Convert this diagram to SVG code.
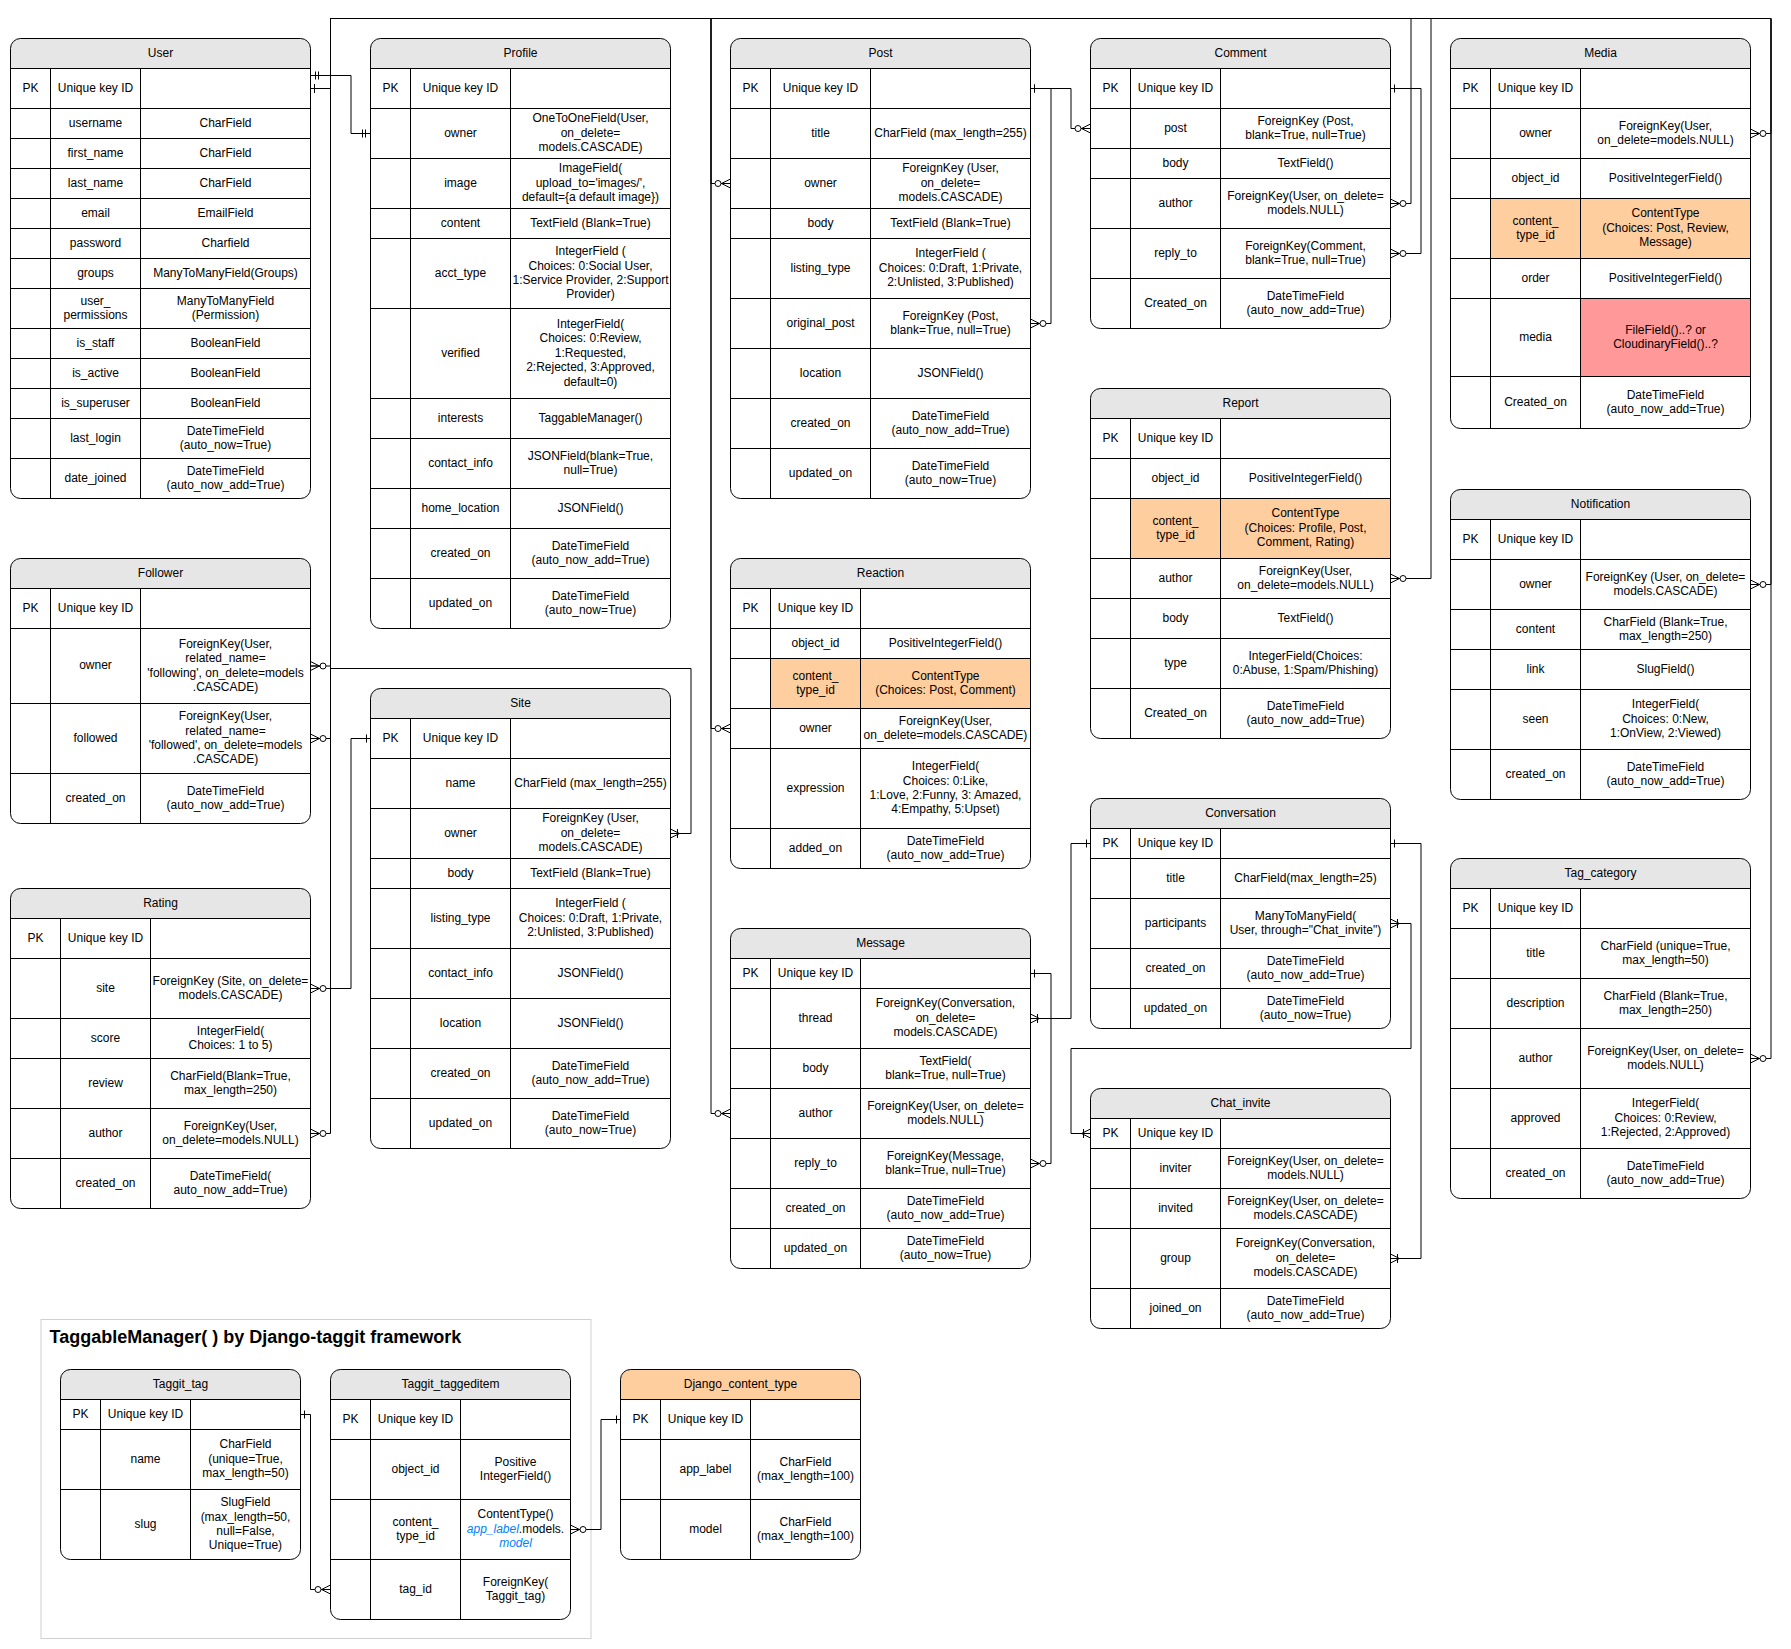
<svg xmlns="http://www.w3.org/2000/svg" width="1791" height="1649" viewBox="0 0 1791 1649">
<style>
text{font-family:"Liberation Sans",Arial,Helvetica,sans-serif;font-size:12px;text-anchor:middle;fill:#000;transform:translate(0px,-0.8px)}
.bg{fill:#fff}
.hd{fill:#e6e6e6}
.or{fill:#ffce9f}
.rd{fill:#ff9999}
.ln,.bd,.cn{fill:none;stroke:#000;stroke-width:1}
.grp{fill:#fff;stroke:#d0d0d0;stroke-width:1}
.title{font-size:18px;font-weight:bold;text-anchor:start}
.blu{fill:#007fff;font-style:italic}
.mk{fill:none;stroke:#000;stroke-width:1}
</style>
<defs>
<marker id="one" markerUnits="userSpaceOnUse" markerWidth="24" markerHeight="16" viewBox="0 0 24 16" refX="24" refY="8" orient="auto-start-reverse"><path class="mk" d="M20,4V12"/></marker>
<marker id="mone" markerUnits="userSpaceOnUse" markerWidth="24" markerHeight="16" viewBox="0 0 24 16" refX="24" refY="8" orient="auto-start-reverse"><path class="mk" d="M16,4V12M19,4V12"/></marker>
<marker id="zmany" markerUnits="userSpaceOnUse" markerWidth="24" markerHeight="16" viewBox="0 0 24 16" refX="24" refY="8" orient="auto-start-reverse"><path class="mk" d="M15,8L24,3.5M15,8L24,8M15,8L24,12.5"/><circle cx="11.5" cy="8" r="3" fill="#fff" stroke="#000" stroke-width="1"/></marker>
<marker id="omany" markerUnits="userSpaceOnUse" markerWidth="24" markerHeight="16" viewBox="0 0 24 16" refX="24" refY="8" orient="auto-start-reverse"><path class="mk" d="M15,8L24,3.5M15,8L24,8M15,8L24,12.5M17,3.5V12.5"/></marker>
</defs>
<rect x="0" y="0" width="1791" height="1649" fill="#fff"/>
<g transform="translate(0.5 0.5)">

<g id="taggit-group">
<rect class="grp" x="40.5" y="1319" width="550" height="319"/>
<text class="title" x="49" y="1343">TaggableManager( ) by Django-taggit framework</text>
</g>

<g id="user">
<rect class="bg" x="10" y="38" width="300" height="460" rx="10"/>
<path class="hd" d="M10,68V48A10,10 0 0 1 20,38H300A10,10 0 0 1 310,48V68Z"/>
<path class="ln" d="M10,68H310M10,108H310M10,138H310M10,168H310M10,198H310M10,228H310M10,258H310M10,288H310M10,328H310M10,358H310M10,388H310M10,418H310M10,458H310M50,68V498M140,68V498"/>
<rect class="bd" x="10" y="38" width="300" height="460" rx="10"/>
<text x="160" y="53" dy=".35em">User</text>
<text x="30" y="88" dy=".35em">PK</text><text x="95" y="88" dy=".35em">Unique key ID</text>
<text x="95" y="123" dy=".35em">username</text><text x="225" y="123" dy=".35em">CharField</text>
<text x="95" y="153" dy=".35em">first_name</text><text x="225" y="153" dy=".35em">CharField</text>
<text x="95" y="183" dy=".35em">last_name</text><text x="225" y="183" dy=".35em">CharField</text>
<text x="95" y="213" dy=".35em">email</text><text x="225" y="213" dy=".35em">EmailField</text>
<text x="95" y="243" dy=".35em">password</text><text x="225" y="243" dy=".35em">Charfield</text>
<text x="95" y="273" dy=".35em">groups</text><text x="225" y="273" dy=".35em">ManyToManyField(Groups)</text>
<text x="95" y="308"><tspan x="95" dy="-.25em">user_</tspan><tspan x="95" dy="1.2em">permissions</tspan></text>
<text x="225" y="308"><tspan x="225" dy="-.25em">ManyToManyField</tspan><tspan x="225" dy="1.2em">(Permission)</tspan></text>
<text x="95" y="343" dy=".35em">is_staff</text><text x="225" y="343" dy=".35em">BooleanField</text>
<text x="95" y="373" dy=".35em">is_active</text><text x="225" y="373" dy=".35em">BooleanField</text>
<text x="95" y="403" dy=".35em">is_superuser</text><text x="225" y="403" dy=".35em">BooleanField</text>
<text x="95" y="438" dy=".35em">last_login</text>
<text x="225" y="438"><tspan x="225" dy="-.25em">DateTimeField</tspan><tspan x="225" dy="1.2em">(auto_now=True)</tspan></text>
<text x="95" y="478" dy=".35em">date_joined</text>
<text x="225" y="478"><tspan x="225" dy="-.25em">DateTimeField</tspan><tspan x="225" dy="1.2em">(auto_now_add=True)</tspan></text>
</g>

<g id="profile">
<rect class="bg" x="370" y="38" width="300" height="590" rx="10"/>
<path class="hd" d="M370,68V48A10,10 0 0 1 380,38H660A10,10 0 0 1 670,48V68Z"/>
<path class="ln" d="M370,68H670M370,108H670M370,158H670M370,208H670M370,238H670M370,308H670M370,398H670M370,438H670M370,488H670M370,528H670M370,578H670M410,68V628M510,68V628"/>
<rect class="bd" x="370" y="38" width="300" height="590" rx="10"/>
<text x="520" y="53" dy=".35em">Profile</text>
<text x="390" y="88" dy=".35em">PK</text><text x="460" y="88" dy=".35em">Unique key ID</text>
<text x="460" y="133" dy=".35em">owner</text>
<text x="590" y="133"><tspan x="590" dy="-.85em">OneToOneField(User,</tspan><tspan x="590" dy="1.2em">on_delete=</tspan><tspan x="590" dy="1.2em">models.CASCADE)</tspan></text>
<text x="460" y="183" dy=".35em">image</text>
<text x="590" y="183"><tspan x="590" dy="-.85em">ImageField(</tspan><tspan x="590" dy="1.2em">upload_to='images/',</tspan><tspan x="590" dy="1.2em">default={a default image})</tspan></text>
<text x="460" y="223" dy=".35em">content</text><text x="590" y="223" dy=".35em">TextField (Blank=True)</text>
<text x="460" y="273" dy=".35em">acct_type</text>
<text x="590" y="273"><tspan x="590" dy="-1.45em">IntegerField (</tspan><tspan x="590" dy="1.2em">Choices: 0:Social User,</tspan><tspan x="590" dy="1.2em">1:Service Provider, 2:Support</tspan><tspan x="590" dy="1.2em">Provider)</tspan></text>
<text x="460" y="353" dy=".35em">verified</text>
<text x="590" y="353"><tspan x="590" dy="-2.05em">IntegerField(</tspan><tspan x="590" dy="1.2em">Choices: 0:Review,</tspan><tspan x="590" dy="1.2em">1:Requested,</tspan><tspan x="590" dy="1.2em">2:Rejected, 3:Approved,</tspan><tspan x="590" dy="1.2em">default=0)</tspan></text>
<text x="460" y="418" dy=".35em">interests</text><text x="590" y="418" dy=".35em">TaggableManager()</text>
<text x="460" y="463" dy=".35em">contact_info</text>
<text x="590" y="463"><tspan x="590" dy="-.25em">JSONField(blank=True,</tspan><tspan x="590" dy="1.2em">null=True)</tspan></text>
<text x="460" y="508" dy=".35em">home_location</text><text x="590" y="508" dy=".35em">JSONField()</text>
<text x="460" y="553" dy=".35em">created_on</text>
<text x="590" y="553"><tspan x="590" dy="-.25em">DateTimeField</tspan><tspan x="590" dy="1.2em">(auto_now_add=True)</tspan></text>
<text x="460" y="603" dy=".35em">updated_on</text>
<text x="590" y="603"><tspan x="590" dy="-.25em">DateTimeField</tspan><tspan x="590" dy="1.2em">(auto_now=True)</tspan></text>
</g>

<g id="post">
<rect class="bg" x="730" y="38" width="300" height="460" rx="10"/>
<path class="hd" d="M730,68V48A10,10 0 0 1 740,38H1020A10,10 0 0 1 1030,48V68Z"/>
<path class="ln" d="M730,68H1030M730,108H1030M730,158H1030M730,208H1030M730,238H1030M730,298H1030M730,348H1030M730,398H1030M730,448H1030M770,68V498M870,68V498"/>
<rect class="bd" x="730" y="38" width="300" height="460" rx="10"/>
<text x="880" y="53" dy=".35em">Post</text>
<text x="750" y="88" dy=".35em">PK</text><text x="820" y="88" dy=".35em">Unique key ID</text>
<text x="820" y="133" dy=".35em">title</text><text x="950" y="133" dy=".35em">CharField (max_length=255)</text>
<text x="820" y="183" dy=".35em">owner</text>
<text x="950" y="183"><tspan x="950" dy="-.85em">ForeignKey (User,</tspan><tspan x="950" dy="1.2em">on_delete=</tspan><tspan x="950" dy="1.2em">models.CASCADE)</tspan></text>
<text x="820" y="223" dy=".35em">body</text><text x="950" y="223" dy=".35em">TextField (Blank=True)</text>
<text x="820" y="268" dy=".35em">listing_type</text>
<text x="950" y="268"><tspan x="950" dy="-.85em">IntegerField (</tspan><tspan x="950" dy="1.2em">Choices: 0:Draft, 1:Private,</tspan><tspan x="950" dy="1.2em">2:Unlisted, 3:Published)</tspan></text>
<text x="820" y="323" dy=".35em">original_post</text>
<text x="950" y="323"><tspan x="950" dy="-.25em">ForeignKey (Post,</tspan><tspan x="950" dy="1.2em">blank=True, null=True)</tspan></text>
<text x="820" y="373" dy=".35em">location</text><text x="950" y="373" dy=".35em">JSONField()</text>
<text x="820" y="423" dy=".35em">created_on</text>
<text x="950" y="423"><tspan x="950" dy="-.25em">DateTimeField</tspan><tspan x="950" dy="1.2em">(auto_now_add=True)</tspan></text>
<text x="820" y="473" dy=".35em">updated_on</text>
<text x="950" y="473"><tspan x="950" dy="-.25em">DateTimeField</tspan><tspan x="950" dy="1.2em">(auto_now=True)</tspan></text>
</g>

<g id="comment">
<rect class="bg" x="1090" y="38" width="300" height="290" rx="10"/>
<path class="hd" d="M1090,68V48A10,10 0 0 1 1100,38H1380A10,10 0 0 1 1390,48V68Z"/>
<path class="ln" d="M1090,68H1390M1090,108H1390M1090,148H1390M1090,178H1390M1090,228H1390M1090,278H1390M1130,68V328M1220,68V328"/>
<rect class="bd" x="1090" y="38" width="300" height="290" rx="10"/>
<text x="1240" y="53" dy=".35em">Comment</text>
<text x="1110" y="88" dy=".35em">PK</text><text x="1175" y="88" dy=".35em">Unique key ID</text>
<text x="1175" y="128" dy=".35em">post</text>
<text x="1305" y="128"><tspan x="1305" dy="-.25em">ForeignKey (Post,</tspan><tspan x="1305" dy="1.2em">blank=True, null=True)</tspan></text>
<text x="1175" y="163" dy=".35em">body</text><text x="1305" y="163" dy=".35em">TextField()</text>
<text x="1175" y="203" dy=".35em">author</text>
<text x="1305" y="203"><tspan x="1305" dy="-.25em">ForeignKey(User, on_delete=</tspan><tspan x="1305" dy="1.2em">models.NULL)</tspan></text>
<text x="1175" y="253" dy=".35em">reply_to</text>
<text x="1305" y="253"><tspan x="1305" dy="-.25em">ForeignKey(Comment,</tspan><tspan x="1305" dy="1.2em">blank=True, null=True)</tspan></text>
<text x="1175" y="303" dy=".35em">Created_on</text>
<text x="1305" y="303"><tspan x="1305" dy="-.25em">DateTimeField</tspan><tspan x="1305" dy="1.2em">(auto_now_add=True)</tspan></text>
</g>

<g id="media">
<rect class="bg" x="1450" y="38" width="300" height="390" rx="10"/>
<path class="hd" d="M1450,68V48A10,10 0 0 1 1460,38H1740A10,10 0 0 1 1750,48V68Z"/>
<rect class="or" x="1490" y="198" width="260" height="60"/>
<rect class="rd" x="1580" y="298" width="170" height="78"/>
<path class="ln" d="M1450,68H1750M1450,108H1750M1450,158H1750M1450,198H1750M1450,258H1750M1450,298H1750M1450,376H1750M1490,68V428M1580,68V428"/>
<rect class="bd" x="1450" y="38" width="300" height="390" rx="10"/>
<text x="1600" y="53" dy=".35em">Media</text>
<text x="1470" y="88" dy=".35em">PK</text><text x="1535" y="88" dy=".35em">Unique key ID</text>
<text x="1535" y="133" dy=".35em">owner</text>
<text x="1665" y="133"><tspan x="1665" dy="-.25em">ForeignKey(User,</tspan><tspan x="1665" dy="1.2em">on_delete=models.NULL)</tspan></text>
<text x="1535" y="178" dy=".35em">object_id</text><text x="1665" y="178" dy=".35em">PositiveIntegerField()</text>
<text x="1535" y="228"><tspan x="1535" dy="-.25em">content_</tspan><tspan x="1535" dy="1.2em">type_id</tspan></text>
<text x="1665" y="228"><tspan x="1665" dy="-.85em">ContentType</tspan><tspan x="1665" dy="1.2em">(Choices: Post, Review,</tspan><tspan x="1665" dy="1.2em">Message)</tspan></text>
<text x="1535" y="278" dy=".35em">order</text><text x="1665" y="278" dy=".35em">PositiveIntegerField()</text>
<text x="1535" y="337" dy=".35em">media</text>
<text x="1665" y="337"><tspan x="1665" dy="-.25em">FileField()..? or</tspan><tspan x="1665" dy="1.2em">CloudinaryField()..?</tspan></text>
<text x="1535" y="402" dy=".35em">Created_on</text>
<text x="1665" y="402"><tspan x="1665" dy="-.25em">DateTimeField</tspan><tspan x="1665" dy="1.2em">(auto_now_add=True)</tspan></text>
</g>

<g id="report">
<rect class="bg" x="1090" y="388" width="300" height="350" rx="10"/>
<path class="hd" d="M1090,418V398A10,10 0 0 1 1100,388H1380A10,10 0 0 1 1390,398V418Z"/>
<rect class="or" x="1130" y="498" width="260" height="60"/>
<path class="ln" d="M1090,418H1390M1090,458H1390M1090,498H1390M1090,558H1390M1090,598H1390M1090,638H1390M1090,688H1390M1130,418V738M1220,418V738"/>
<rect class="bd" x="1090" y="388" width="300" height="350" rx="10"/>
<text x="1240" y="403" dy=".35em">Report</text>
<text x="1110" y="438" dy=".35em">PK</text><text x="1175" y="438" dy=".35em">Unique key ID</text>
<text x="1175" y="478" dy=".35em">object_id</text><text x="1305" y="478" dy=".35em">PositiveIntegerField()</text>
<text x="1175" y="528"><tspan x="1175" dy="-.25em">content_</tspan><tspan x="1175" dy="1.2em">type_id</tspan></text>
<text x="1305" y="528"><tspan x="1305" dy="-.85em">ContentType</tspan><tspan x="1305" dy="1.2em">(Choices: Profile, Post,</tspan><tspan x="1305" dy="1.2em">Comment, Rating)</tspan></text>
<text x="1175" y="578" dy=".35em">author</text>
<text x="1305" y="578"><tspan x="1305" dy="-.25em">ForeignKey(User,</tspan><tspan x="1305" dy="1.2em">on_delete=models.NULL)</tspan></text>
<text x="1175" y="618" dy=".35em">body</text><text x="1305" y="618" dy=".35em">TextField()</text>
<text x="1175" y="663" dy=".35em">type</text>
<text x="1305" y="663"><tspan x="1305" dy="-.25em">IntegerField(Choices:</tspan><tspan x="1305" dy="1.2em">0:Abuse, 1:Spam/Phishing)</tspan></text>
<text x="1175" y="713" dy=".35em">Created_on</text>
<text x="1305" y="713"><tspan x="1305" dy="-.25em">DateTimeField</tspan><tspan x="1305" dy="1.2em">(auto_now_add=True)</tspan></text>
</g>

<g id="notification">
<rect class="bg" x="1450" y="489" width="300" height="310" rx="10"/>
<path class="hd" d="M1450,519V499A10,10 0 0 1 1460,489H1740A10,10 0 0 1 1750,499V519Z"/>
<path class="ln" d="M1450,519H1750M1450,559H1750M1450,609H1750M1450,649H1750M1450,689H1750M1450,749H1750M1490,519V799M1580,519V799"/>
<rect class="bd" x="1450" y="489" width="300" height="310" rx="10"/>
<text x="1600" y="504" dy=".35em">Notification</text>
<text x="1470" y="539" dy=".35em">PK</text><text x="1535" y="539" dy=".35em">Unique key ID</text>
<text x="1535" y="584" dy=".35em">owner</text>
<text x="1665" y="584"><tspan x="1665" dy="-.25em">ForeignKey (User, on_delete=</tspan><tspan x="1665" dy="1.2em">models.CASCADE)</tspan></text>
<text x="1535" y="629" dy=".35em">content</text>
<text x="1665" y="629"><tspan x="1665" dy="-.25em">CharField (Blank=True,</tspan><tspan x="1665" dy="1.2em">max_length=250)</tspan></text>
<text x="1535" y="669" dy=".35em">link</text><text x="1665" y="669" dy=".35em">SlugField()</text>
<text x="1535" y="719" dy=".35em">seen</text>
<text x="1665" y="719"><tspan x="1665" dy="-.85em">IntegerField(</tspan><tspan x="1665" dy="1.2em">Choices: 0:New,</tspan><tspan x="1665" dy="1.2em">1:OnView, 2:Viewed)</tspan></text>
<text x="1535" y="774" dy=".35em">created_on</text>
<text x="1665" y="774"><tspan x="1665" dy="-.25em">DateTimeField</tspan><tspan x="1665" dy="1.2em">(auto_now_add=True)</tspan></text>
</g>

<g id="follower">
<rect class="bg" x="10" y="558" width="300" height="265" rx="10"/>
<path class="hd" d="M10,588V568A10,10 0 0 1 20,558H300A10,10 0 0 1 310,568V588Z"/>
<path class="ln" d="M10,588H310M10,628H310M10,703H310M10,773H310M50,588V823M140,588V823"/>
<rect class="bd" x="10" y="558" width="300" height="265" rx="10"/>
<text x="160" y="573" dy=".35em">Follower</text>
<text x="30" y="608" dy=".35em">PK</text><text x="95" y="608" dy=".35em">Unique key ID</text>
<text x="95" y="665.5" dy=".35em">owner</text>
<text x="225" y="665.5"><tspan x="225" dy="-1.45em">ForeignKey(User,</tspan><tspan x="225" dy="1.2em">related_name=</tspan><tspan x="225" dy="1.2em">'following', on_delete=models</tspan><tspan x="225" dy="1.2em">.CASCADE)</tspan></text>
<text x="95" y="738" dy=".35em">followed</text>
<text x="225" y="738"><tspan x="225" dy="-1.45em">ForeignKey(User,</tspan><tspan x="225" dy="1.2em">related_name=</tspan><tspan x="225" dy="1.2em">'followed', on_delete=models</tspan><tspan x="225" dy="1.2em">.CASCADE)</tspan></text>
<text x="95" y="798" dy=".35em">created_on</text>
<text x="225" y="798"><tspan x="225" dy="-.25em">DateTimeField</tspan><tspan x="225" dy="1.2em">(auto_now_add=True)</tspan></text>
</g>

<g id="site">
<rect class="bg" x="370" y="688" width="300" height="460" rx="10"/>
<path class="hd" d="M370,718V698A10,10 0 0 1 380,688H660A10,10 0 0 1 670,698V718Z"/>
<path class="ln" d="M370,718H670M370,758H670M370,808H670M370,858H670M370,888H670M370,948H670M370,998H670M370,1048H670M370,1098H670M410,718V1148M510,718V1148"/>
<rect class="bd" x="370" y="688" width="300" height="460" rx="10"/>
<text x="520" y="703" dy=".35em">Site</text>
<text x="390" y="738" dy=".35em">PK</text><text x="460" y="738" dy=".35em">Unique key ID</text>
<text x="460" y="783" dy=".35em">name</text><text x="590" y="783" dy=".35em">CharField (max_length=255)</text>
<text x="460" y="833" dy=".35em">owner</text>
<text x="590" y="833"><tspan x="590" dy="-.85em">ForeignKey (User,</tspan><tspan x="590" dy="1.2em">on_delete=</tspan><tspan x="590" dy="1.2em">models.CASCADE)</tspan></text>
<text x="460" y="873" dy=".35em">body</text><text x="590" y="873" dy=".35em">TextField (Blank=True)</text>
<text x="460" y="918" dy=".35em">listing_type</text>
<text x="590" y="918"><tspan x="590" dy="-.85em">IntegerField (</tspan><tspan x="590" dy="1.2em">Choices: 0:Draft, 1:Private,</tspan><tspan x="590" dy="1.2em">2:Unlisted, 3:Published)</tspan></text>
<text x="460" y="973" dy=".35em">contact_info</text><text x="590" y="973" dy=".35em">JSONField()</text>
<text x="460" y="1023" dy=".35em">location</text><text x="590" y="1023" dy=".35em">JSONField()</text>
<text x="460" y="1073" dy=".35em">created_on</text>
<text x="590" y="1073"><tspan x="590" dy="-.25em">DateTimeField</tspan><tspan x="590" dy="1.2em">(auto_now_add=True)</tspan></text>
<text x="460" y="1123" dy=".35em">updated_on</text>
<text x="590" y="1123"><tspan x="590" dy="-.25em">DateTimeField</tspan><tspan x="590" dy="1.2em">(auto_now=True)</tspan></text>
</g>

<g id="reaction">
<rect class="bg" x="730" y="558" width="300" height="310" rx="10"/>
<path class="hd" d="M730,588V568A10,10 0 0 1 740,558H1020A10,10 0 0 1 1030,568V588Z"/>
<rect class="or" x="770" y="658" width="260" height="50"/>
<path class="ln" d="M730,588H1030M730,628H1030M730,658H1030M730,708H1030M730,748H1030M730,828H1030M770,588V868M860,588V868"/>
<rect class="bd" x="730" y="558" width="300" height="310" rx="10"/>
<text x="880" y="573" dy=".35em">Reaction</text>
<text x="750" y="608" dy=".35em">PK</text><text x="815" y="608" dy=".35em">Unique key ID</text>
<text x="815" y="643" dy=".35em">object_id</text><text x="945" y="643" dy=".35em">PositiveIntegerField()</text>
<text x="815" y="683"><tspan x="815" dy="-.25em">content_</tspan><tspan x="815" dy="1.2em">type_id</tspan></text>
<text x="945" y="683"><tspan x="945" dy="-.25em">ContentType</tspan><tspan x="945" dy="1.2em">(Choices: Post, Comment)</tspan></text>
<text x="815" y="728" dy=".35em">owner</text>
<text x="945" y="728"><tspan x="945" dy="-.25em">ForeignKey(User,</tspan><tspan x="945" dy="1.2em">on_delete=models.CASCADE)</tspan></text>
<text x="815" y="788" dy=".35em">expression</text>
<text x="945" y="788"><tspan x="945" dy="-1.45em">IntegerField(</tspan><tspan x="945" dy="1.2em">Choices: 0:Like,</tspan><tspan x="945" dy="1.2em">1:Love, 2:Funny, 3: Amazed,</tspan><tspan x="945" dy="1.2em">4:Empathy, 5:Upset)</tspan></text>
<text x="815" y="848" dy=".35em">added_on</text>
<text x="945" y="848"><tspan x="945" dy="-.25em">DateTimeField</tspan><tspan x="945" dy="1.2em">(auto_now_add=True)</tspan></text>
</g>

<g id="rating">
<rect class="bg" x="10" y="888" width="300" height="320" rx="10"/>
<path class="hd" d="M10,918V898A10,10 0 0 1 20,888H300A10,10 0 0 1 310,898V918Z"/>
<path class="ln" d="M10,918H310M10,958H310M10,1018H310M10,1058H310M10,1108H310M10,1158H310M60,918V1208M150,918V1208"/>
<rect class="bd" x="10" y="888" width="300" height="320" rx="10"/>
<text x="160" y="903" dy=".35em">Rating</text>
<text x="35" y="938" dy=".35em">PK</text><text x="105" y="938" dy=".35em">Unique key ID</text>
<text x="105" y="988" dy=".35em">site</text>
<text x="230" y="988"><tspan x="230" dy="-.25em">ForeignKey (Site, on_delete=</tspan><tspan x="230" dy="1.2em">models.CASCADE)</tspan></text>
<text x="105" y="1038" dy=".35em">score</text>
<text x="230" y="1038"><tspan x="230" dy="-.25em">IntegerField(</tspan><tspan x="230" dy="1.2em">Choices: 1 to 5)</tspan></text>
<text x="105" y="1083" dy=".35em">review</text>
<text x="230" y="1083"><tspan x="230" dy="-.25em">CharField(Blank=True,</tspan><tspan x="230" dy="1.2em">max_length=250)</tspan></text>
<text x="105" y="1133" dy=".35em">author</text>
<text x="230" y="1133"><tspan x="230" dy="-.25em">ForeignKey(User,</tspan><tspan x="230" dy="1.2em">on_delete=models.NULL)</tspan></text>
<text x="105" y="1183" dy=".35em">created_on</text>
<text x="230" y="1183"><tspan x="230" dy="-.25em">DateTimeField(</tspan><tspan x="230" dy="1.2em">auto_now_add=True)</tspan></text>
</g>

<g id="message">
<rect class="bg" x="730" y="928" width="300" height="340" rx="10"/>
<path class="hd" d="M730,958V938A10,10 0 0 1 740,928H1020A10,10 0 0 1 1030,938V958Z"/>
<path class="ln" d="M730,958H1030M730,988H1030M730,1048H1030M730,1088H1030M730,1138H1030M730,1188H1030M730,1228H1030M770,958V1268M860,958V1268"/>
<rect class="bd" x="730" y="928" width="300" height="340" rx="10"/>
<text x="880" y="943" dy=".35em">Message</text>
<text x="750" y="973" dy=".35em">PK</text><text x="815" y="973" dy=".35em">Unique key ID</text>
<text x="815" y="1018" dy=".35em">thread</text>
<text x="945" y="1018"><tspan x="945" dy="-.85em">ForeignKey(Conversation,</tspan><tspan x="945" dy="1.2em">on_delete=</tspan><tspan x="945" dy="1.2em">models.CASCADE)</tspan></text>
<text x="815" y="1068" dy=".35em">body</text>
<text x="945" y="1068"><tspan x="945" dy="-.25em">TextField(</tspan><tspan x="945" dy="1.2em">blank=True, null=True)</tspan></text>
<text x="815" y="1113" dy=".35em">author</text>
<text x="945" y="1113"><tspan x="945" dy="-.25em">ForeignKey(User, on_delete=</tspan><tspan x="945" dy="1.2em">models.NULL)</tspan></text>
<text x="815" y="1163" dy=".35em">reply_to</text>
<text x="945" y="1163"><tspan x="945" dy="-.25em">ForeignKey(Message,</tspan><tspan x="945" dy="1.2em">blank=True, null=True)</tspan></text>
<text x="815" y="1208" dy=".35em">created_on</text>
<text x="945" y="1208"><tspan x="945" dy="-.25em">DateTimeField</tspan><tspan x="945" dy="1.2em">(auto_now_add=True)</tspan></text>
<text x="815" y="1248" dy=".35em">updated_on</text>
<text x="945" y="1248"><tspan x="945" dy="-.25em">DateTimeField</tspan><tspan x="945" dy="1.2em">(auto_now=True)</tspan></text>
</g>

<g id="conversation">
<rect class="bg" x="1090" y="798" width="300" height="230" rx="10"/>
<path class="hd" d="M1090,828V808A10,10 0 0 1 1100,798H1380A10,10 0 0 1 1390,808V828Z"/>
<path class="ln" d="M1090,828H1390M1090,858H1390M1090,898H1390M1090,948H1390M1090,988H1390M1130,828V1028M1220,828V1028"/>
<rect class="bd" x="1090" y="798" width="300" height="230" rx="10"/>
<text x="1240" y="813" dy=".35em">Conversation</text>
<text x="1110" y="843" dy=".35em">PK</text><text x="1175" y="843" dy=".35em">Unique key ID</text>
<text x="1175" y="878" dy=".35em">title</text><text x="1305" y="878" dy=".35em">CharField(max_length=25)</text>
<text x="1175" y="923" dy=".35em">participants</text>
<text x="1305" y="923"><tspan x="1305" dy="-.25em">ManyToManyField(</tspan><tspan x="1305" dy="1.2em">User, through="Chat_invite")</tspan></text>
<text x="1175" y="968" dy=".35em">created_on</text>
<text x="1305" y="968"><tspan x="1305" dy="-.25em">DateTimeField</tspan><tspan x="1305" dy="1.2em">(auto_now_add=True)</tspan></text>
<text x="1175" y="1008" dy=".35em">updated_on</text>
<text x="1305" y="1008"><tspan x="1305" dy="-.25em">DateTimeField</tspan><tspan x="1305" dy="1.2em">(auto_now=True)</tspan></text>
</g>

<g id="chat-invite">
<rect class="bg" x="1090" y="1088" width="300" height="240" rx="10"/>
<path class="hd" d="M1090,1118V1098A10,10 0 0 1 1100,1088H1380A10,10 0 0 1 1390,1098V1118Z"/>
<path class="ln" d="M1090,1118H1390M1090,1148H1390M1090,1188H1390M1090,1228H1390M1090,1288H1390M1130,1118V1328M1220,1118V1328"/>
<rect class="bd" x="1090" y="1088" width="300" height="240" rx="10"/>
<text x="1240" y="1103" dy=".35em">Chat_invite</text>
<text x="1110" y="1133" dy=".35em">PK</text><text x="1175" y="1133" dy=".35em">Unique key ID</text>
<text x="1175" y="1168" dy=".35em">inviter</text>
<text x="1305" y="1168"><tspan x="1305" dy="-.25em">ForeignKey(User, on_delete=</tspan><tspan x="1305" dy="1.2em">models.NULL)</tspan></text>
<text x="1175" y="1208" dy=".35em">invited</text>
<text x="1305" y="1208"><tspan x="1305" dy="-.25em">ForeignKey(User, on_delete=</tspan><tspan x="1305" dy="1.2em">models.CASCADE)</tspan></text>
<text x="1175" y="1258" dy=".35em">group</text>
<text x="1305" y="1258"><tspan x="1305" dy="-.85em">ForeignKey(Conversation,</tspan><tspan x="1305" dy="1.2em">on_delete=</tspan><tspan x="1305" dy="1.2em">models.CASCADE)</tspan></text>
<text x="1175" y="1308" dy=".35em">joined_on</text>
<text x="1305" y="1308"><tspan x="1305" dy="-.25em">DateTimeField</tspan><tspan x="1305" dy="1.2em">(auto_now_add=True)</tspan></text>
</g>

<g id="tag-category">
<rect class="bg" x="1450" y="858" width="300" height="340" rx="10"/>
<path class="hd" d="M1450,888V868A10,10 0 0 1 1460,858H1740A10,10 0 0 1 1750,868V888Z"/>
<path class="ln" d="M1450,888H1750M1450,928H1750M1450,978H1750M1450,1028H1750M1450,1088H1750M1450,1148H1750M1490,888V1198M1580,888V1198"/>
<rect class="bd" x="1450" y="858" width="300" height="340" rx="10"/>
<text x="1600" y="873" dy=".35em">Tag_category</text>
<text x="1470" y="908" dy=".35em">PK</text><text x="1535" y="908" dy=".35em">Unique key ID</text>
<text x="1535" y="953" dy=".35em">title</text>
<text x="1665" y="953"><tspan x="1665" dy="-.25em">CharField (unique=True,</tspan><tspan x="1665" dy="1.2em">max_length=50)</tspan></text>
<text x="1535" y="1003" dy=".35em">description</text>
<text x="1665" y="1003"><tspan x="1665" dy="-.25em">CharField (Blank=True,</tspan><tspan x="1665" dy="1.2em">max_length=250)</tspan></text>
<text x="1535" y="1058" dy=".35em">author</text>
<text x="1665" y="1058"><tspan x="1665" dy="-.25em">ForeignKey(User, on_delete=</tspan><tspan x="1665" dy="1.2em">models.NULL)</tspan></text>
<text x="1535" y="1118" dy=".35em">approved</text>
<text x="1665" y="1118"><tspan x="1665" dy="-.85em">IntegerField(</tspan><tspan x="1665" dy="1.2em">Choices: 0:Review,</tspan><tspan x="1665" dy="1.2em">1:Rejected, 2:Approved)</tspan></text>
<text x="1535" y="1173" dy=".35em">created_on</text>
<text x="1665" y="1173"><tspan x="1665" dy="-.25em">DateTimeField</tspan><tspan x="1665" dy="1.2em">(auto_now_add=True)</tspan></text>
</g>

<g id="taggit-tag">
<rect class="bg" x="60" y="1369" width="240" height="190" rx="10"/>
<path class="hd" d="M60,1399V1379A10,10 0 0 1 70,1369H290A10,10 0 0 1 300,1379V1399Z"/>
<path class="ln" d="M60,1399H300M60,1429H300M60,1489H300M100,1399V1559M190,1399V1559"/>
<rect class="bd" x="60" y="1369" width="240" height="190" rx="10"/>
<text x="180" y="1384" dy=".35em">Taggit_tag</text>
<text x="80" y="1414" dy=".35em">PK</text><text x="145" y="1414" dy=".35em">Unique key ID</text>
<text x="145" y="1459" dy=".35em">name</text>
<text x="245" y="1459"><tspan x="245" dy="-.85em">CharField</tspan><tspan x="245" dy="1.2em">(unique=True,</tspan><tspan x="245" dy="1.2em">max_length=50)</tspan></text>
<text x="145" y="1524" dy=".35em">slug</text>
<text x="245" y="1524"><tspan x="245" dy="-1.45em">SlugField</tspan><tspan x="245" dy="1.2em">(max_length=50,</tspan><tspan x="245" dy="1.2em">null=False,</tspan><tspan x="245" dy="1.2em">Unique=True)</tspan></text>
</g>

<g id="taggit-taggeditem">
<rect class="bg" x="330" y="1369" width="240" height="250" rx="10"/>
<path class="hd" d="M330,1399V1379A10,10 0 0 1 340,1369H560A10,10 0 0 1 570,1379V1399Z"/>
<path class="ln" d="M330,1399H570M330,1439H570M330,1499H570M330,1559H570M370,1399V1619M460,1399V1619"/>
<rect class="bd" x="330" y="1369" width="240" height="250" rx="10"/>
<text x="450" y="1384" dy=".35em">Taggit_taggeditem</text>
<text x="350" y="1419" dy=".35em">PK</text><text x="415" y="1419" dy=".35em">Unique key ID</text>
<text x="415" y="1469" dy=".35em">object_id</text>
<text x="515" y="1469"><tspan x="515" dy="-.25em">Positive</tspan><tspan x="515" dy="1.2em">IntegerField()</tspan></text>
<text x="415" y="1529"><tspan x="415" dy="-.25em">content_</tspan><tspan x="415" dy="1.2em">type_id</tspan></text>
<text x="515" y="1529"><tspan x="515" dy="-.85em">ContentType()</tspan><tspan x="515" dy="1.2em"><tspan class="blu">app_label</tspan>.models.</tspan><tspan x="515" dy="1.2em" class="blu">model</tspan></text>
<text x="415" y="1589" dy=".35em">tag_id</text>
<text x="515" y="1589"><tspan x="515" dy="-.25em">ForeignKey(</tspan><tspan x="515" dy="1.2em">Taggit_tag)</tspan></text>
</g>

<g id="django-content-type">
<rect class="bg" x="620" y="1369" width="240" height="190" rx="10"/>
<path class="or" d="M620,1399V1379A10,10 0 0 1 630,1369H850A10,10 0 0 1 860,1379V1399Z"/>
<path class="ln" d="M620,1399H860M620,1439H860M620,1499H860M660,1399V1559M750,1399V1559"/>
<rect class="bd" x="620" y="1369" width="240" height="190" rx="10"/>
<text x="740" y="1384" dy=".35em">Django_content_type</text>
<text x="640" y="1419" dy=".35em">PK</text><text x="705" y="1419" dy=".35em">Unique key ID</text>
<text x="705" y="1469" dy=".35em">app_label</text>
<text x="805" y="1469"><tspan x="805" dy="-.25em">CharField</tspan><tspan x="805" dy="1.2em">(max_length=100)</tspan></text>
<text x="705" y="1529" dy=".35em">model</text>
<text x="805" y="1529"><tspan x="805" dy="-.25em">CharField</tspan><tspan x="805" dy="1.2em">(max_length=100)</tspan></text>
</g>

<g id="connectors">
<path class="cn" d="M310,75H350.5V133H370" marker-start="url(#mone)" marker-end="url(#mone)"/>
<path class="cn" d="M310,88H330V18H710.5V183H730" marker-start="url(#one)" marker-end="url(#zmany)"/>
<path class="cn" d="M310,88H330V18H710.5V728H730" marker-start="url(#one)" marker-end="url(#zmany)"/>
<path class="cn" d="M310,88H330V18H710.5V1113H730" marker-start="url(#one)" marker-end="url(#zmany)"/>
<path class="cn" d="M310,88H330V18H1410.5V203H1390" marker-start="url(#one)" marker-end="url(#zmany)"/>
<path class="cn" d="M310,88H330V18H1430.5V578H1390" marker-start="url(#one)" marker-end="url(#zmany)"/>
<path class="cn" d="M310,88H330V18H1770.5V133H1750" marker-start="url(#one)" marker-end="url(#zmany)"/>
<path class="cn" d="M310,88H330V18H1770.5V584H1750" marker-start="url(#one)" marker-end="url(#zmany)"/>
<path class="cn" d="M310,88H330V18H1770.5V1058H1750" marker-start="url(#one)" marker-end="url(#zmany)"/>
<path class="cn" d="M310,88H330V665.5H310" marker-start="url(#one)" marker-end="url(#zmany)"/>
<path class="cn" d="M310,88H330V738H310" marker-start="url(#one)" marker-end="url(#zmany)"/>
<path class="cn" d="M310,88H330V668H690.5V833H670" marker-start="url(#one)" marker-end="url(#omany)"/>
<path class="cn" d="M310,88H330V1133H310" marker-start="url(#one)" marker-end="url(#zmany)"/>
<path class="cn" d="M1030,88H1070.5V128H1090" marker-start="url(#one)" marker-end="url(#zmany)"/>
<path class="cn" d="M1030,88H1050.5V323H1030" marker-start="url(#one)" marker-end="url(#zmany)"/>
<path class="cn" d="M1390,88H1420.5V253H1390" marker-start="url(#one)" marker-end="url(#zmany)"/>
<path class="cn" d="M370,738H350.5V988H310" marker-start="url(#one)" marker-end="url(#zmany)"/>
<path class="cn" d="M1090,843H1070.5V1018H1030" marker-start="url(#one)" marker-end="url(#omany)"/>
<path class="cn" d="M1030,973H1050.5V1163H1030" marker-start="url(#one)" marker-end="url(#zmany)"/>
<path class="cn" d="M1390,843H1420.5V1258H1390" marker-start="url(#one)" marker-end="url(#omany)"/>
<path class="cn" d="M1390,923H1410.5V1048H1070.5V1133H1090" marker-start="url(#omany)" marker-end="url(#omany)"/>
<path class="cn" d="M300,1414H310V1589H330" marker-start="url(#one)" marker-end="url(#zmany)"/>
<path class="cn" d="M620,1419H600.5V1529H570" marker-start="url(#one)" marker-end="url(#zmany)"/>
</g>
</g>
</svg>
